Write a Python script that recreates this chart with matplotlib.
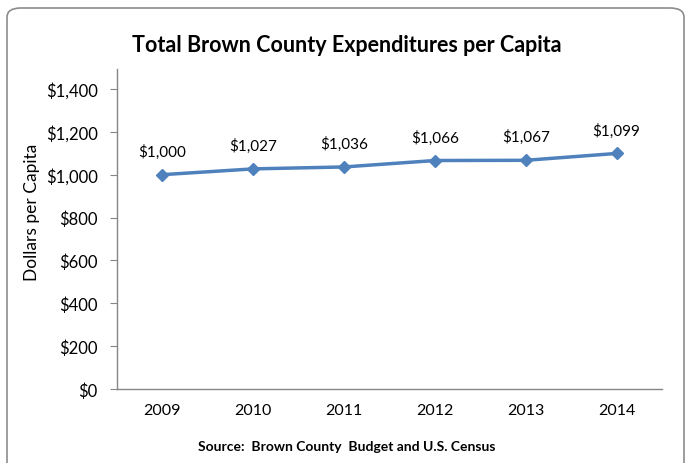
import matplotlib.pyplot as plt
from matplotlib.patches import FancyBboxPatch
from matplotlib.ticker import FuncFormatter

plt.rcParams['font.family'] = ['Lato', 'DejaVu Sans']

years = ["2009", "2010", "2011", "2012", "2013", "2014"]
spending = [1000, 1027, 1036, 1066, 1067, 1099]
y_ticks = [0, 200, 400, 600, 800, 1000, 1200, 1400]

line_blue = '#4F81BD'
axis_grey = '#868686'

fig = plt.figure(figsize=(6.89, 4.64), dpi=100)

# chart frame with rounded corners, runs off the bottom edge
frame = FancyBboxPatch((7 / 689, -0.05), 677 / 689, (464 - 9) / 464 + 0.05,
                       boxstyle="round,pad=0,rounding_size=0.02",
                       transform=fig.transFigure, facecolor='white',
                       edgecolor='#8c8c8c', linewidth=1.2, zorder=-5)
fig.add_artist(frame)

ax = fig.add_axes([117 / 689, (464 - 390) / 464, (662 - 117) / 689, (390 - 70) / 464])
ax.set_facecolor('none')

x = list(range(len(years)))
ax.plot(x, spending, color=line_blue, linewidth=2.5, marker='D', markersize=6.5,
        markerfacecolor=line_blue, markeredgecolor=line_blue)

for xi, v in zip(x, spending):
    ax.annotate(f"${v:,}", (xi, v), xytext=(0, 17), textcoords='offset points',
                ha='center', va='center', fontsize=11, color='black')

ax.set_xlim(-0.5, len(years) - 0.5)
ax.set_ylim(0, 1493)
ax.set_xticks(x)
ax.set_xticklabels(years)
ax.set_yticks(y_ticks)
ax.yaxis.set_major_formatter(FuncFormatter(lambda v, p: f"${int(v):,}"))

for side in ['top', 'right']:
    ax.spines[side].set_visible(False)
for side in ['left', 'bottom']:
    ax.spines[side].set_color(axis_grey)
    ax.spines[side].set_linewidth(1)

ax.tick_params(axis='y', length=5, color=axis_grey, labelsize=12, pad=9)
ax.tick_params(axis='x', length=0, labelsize=11.5, pad=10)

ax.set_ylabel("Dollars per Capita", fontsize=12.5)
ax.yaxis.set_label_coords((40 - 117) / 545, 0.556)

fig.text(347 / 689, 1 - 45 / 464, "Total Brown County Expenditures per Capita",
         ha='center', va='center', fontsize=15.5, fontweight='bold')
fig.text(347 / 689, 1 - 447 / 464, "Source:  Brown County  Budget and U.S. Census",
         ha='center', va='center', fontsize=10, fontweight='bold')

fig.savefig("out.png", dpi=100)
